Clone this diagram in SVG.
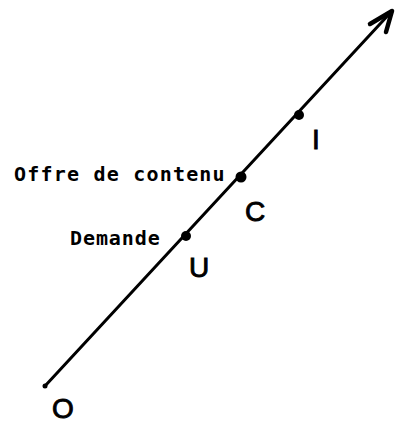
<svg xmlns="http://www.w3.org/2000/svg" width="395" height="423" viewBox="0 0 395 423">
<style>
.axis{stroke:#000;stroke-width:3;fill:none;stroke-linecap:round;stroke-linejoin:round}
.head{stroke:#000;stroke-width:4.5;fill:none;stroke-linecap:round;stroke-linejoin:round}
.lbl{font-family:"DejaVu Sans Mono","Liberation Mono",monospace;font-weight:bold;font-size:20px;fill:#000}
.hand{font-family:"Liberation Sans",sans-serif;font-size:28px;fill:#000;stroke:#000;stroke-width:0.9}
.dot{fill:#000}
</style>
<rect width="395" height="423" fill="#fff"/>
<g id="connectors">
<path class="axis" d="M45,386 L392,11"/>
<path class="head" d="M370,24 L392,11 L386,32"/>
</g>
<g id="origin">
<circle class="dot" cx="45" cy="386" r="2.5"/>
<text class="hand" x="63" y="418" text-anchor="middle" font-size="26">O</text>
</g>
<g id="node-U">
<circle class="dot" cx="186" cy="236" r="5"/>
<text class="lbl" x="70" y="245" letter-spacing="0.9">Demande</text>
<text class="hand" x="199" y="277" text-anchor="middle">U</text>
</g>
<g id="node-C">
<circle class="dot" cx="241" cy="177" r="5.5"/>
<text class="lbl" x="14" y="181" letter-spacing="1.2">Offre de contenu</text>
<text class="hand" x="255" y="221" text-anchor="middle">C</text>
</g>
<g id="node-I">
<circle class="dot" cx="299" cy="115" r="5"/>
<text class="hand" x="316" y="149" text-anchor="middle" font-family="Liberation Serif,serif">I</text>
</g>
</svg>
